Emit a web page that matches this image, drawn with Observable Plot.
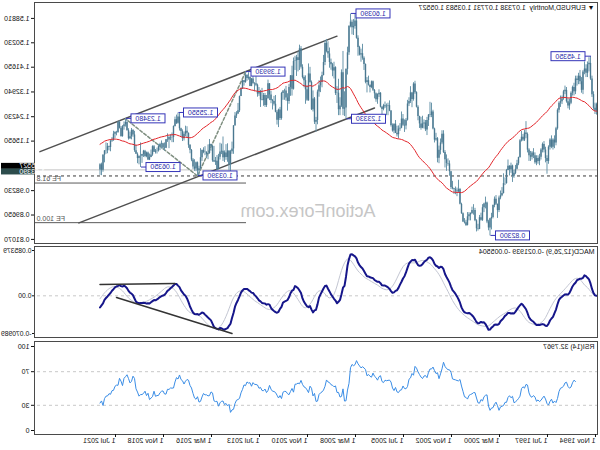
<!DOCTYPE html>
<html><head><meta charset="utf-8">
<script src="https://cdn.jsdelivr.net/npm/d3@7"></script>
<script src="https://cdn.jsdelivr.net/npm/@observablehq/plot@0.6"></script>
<style>
html,body{margin:0;padding:0;background:#fff;overflow:hidden;}
#wrap{width:600px;height:450px;transform:scaleX(-1);position:relative;overflow:hidden;background:#fff;}
#wrap svg{display:block;}
</style></head><body><div id="wrap"></div>
<script>
// ---------- data (EURUSD monthly, Nov 1994 .. Jun 2022) ----------
const startMonth = "1994-11";
const firstOpen = 1.285;
const closes = [
1.262,1.272,
1.320,1.375,1.430,1.425,1.395,1.410,1.400,1.335,1.365,1.385,1.370,1.375,
1.330,1.345,1.325,1.290,1.280,1.295,1.335,1.330,1.305,1.295,1.290,1.265,
1.200,1.150,1.160,1.135,1.160,1.135,1.085,1.095,1.125,1.145,1.125,1.100,
1.085,1.095,1.080,1.105,1.115,1.100,1.105,1.125,1.180,1.185,1.160,1.170,
1.1575,1.0985,1.0765,1.0575,1.0430,1.0330,1.0690,1.0560,1.0680,1.0535,1.0070,1.0070,
0.9720,0.9640,0.9565,0.9120,0.9340,0.9520,0.9300,0.8880,0.8830,0.8510,0.8720,0.9390,
0.9350,0.9220,0.8780,0.8870,0.8460,0.8480,0.8760,0.9120,0.9120,0.9020,0.8970,0.8900,
0.8600,0.8690,0.8720,0.9010,0.9340,0.9860,0.9780,0.9810,0.9860,0.9890,0.9930,1.0490,
1.0760,1.0780,1.0910,1.1160,1.1810,1.1500,1.1240,1.0960,1.1650,1.1600,1.1990,1.2590,
1.2470,1.2480,1.2290,1.1960,1.2200,1.2170,1.2020,1.2170,1.2430,1.2760,1.3270,1.3570,
1.3030,1.3260,1.2960,1.2870,1.2300,1.2100,1.2120,1.2340,1.2020,1.1990,1.1790,1.1840,
1.2160,1.1920,1.2110,1.2620,1.2810,1.2790,1.2770,1.2810,1.2680,1.2760,1.3250,1.3200,
1.3020,1.3230,1.3350,1.3650,1.3450,1.3530,1.3690,1.3630,1.4260,1.4480,1.4640,1.4590,
1.4860,1.5180,1.5790,1.5600,1.5550,1.5750,1.5600,1.4670,1.4090,1.2730,1.2690,1.3970,
1.2800,1.2670,1.3250,1.3240,1.4150,1.4030,1.4250,1.4330,1.4630,1.4720,1.5000,1.4330,
1.3870,1.3630,1.3510,1.3290,1.2290,1.2230,1.3050,1.2670,1.3630,1.3930,1.2980,1.3370,
1.3690,1.3800,1.4160,1.4810,1.4400,1.4500,1.4390,1.4370,1.3390,1.3860,1.3450,1.2960,
1.3080,1.3330,1.3340,1.3240,1.2360,1.2660,1.2300,1.2580,1.2860,1.2960,1.2990,1.3190,
1.3580,1.3060,1.2820,1.3170,1.2990,1.3010,1.3300,1.3220,1.3530,1.3580,1.3590,1.3750,
1.3490,1.3800,1.3770,1.3870,1.3630,1.3690,1.3390,1.3130,1.2630,1.2520,1.2450,1.2100,
1.1290,1.1190,1.0730,1.1220,1.0990,1.1150,1.0980,1.1210,1.1180,1.1000,1.0560,1.0860,
1.0830,1.0870,1.1380,1.1450,1.1130,1.1100,1.1170,1.1160,1.1240,1.0980,1.0590,1.0520,
1.0800,1.0580,1.0650,1.0900,1.1240,1.1420,1.1840,1.1910,1.1810,1.1650,1.1900,1.2000,
1.2410,1.2190,1.2320,1.2080,1.1690,1.1680,1.1690,1.1600,1.1610,1.1310,1.1320,1.1470,
1.1450,1.1370,1.1220,1.1210,1.1170,1.1370,1.1080,1.0990,1.0900,1.1150,1.1020,1.1210,
1.1090,1.1030,1.1030,1.0950,1.1100,1.1230,1.1780,1.1940,1.1720,1.1650,1.1930,1.2220,
1.2140,1.2070,1.1730,1.2020,1.2230,1.1860,1.1870,1.1810,1.1580,1.1560,1.1340,1.1370,
1.1230,1.1220,1.1070,1.0540,1.0730,1.0553];
const highs = [
1.290,1.290,
1.330,1.385,1.4535,1.450,1.435,1.425,1.435,1.405,1.380,1.405,1.395,1.385,
1.385,1.360,1.350,1.330,1.305,1.305,1.345,1.350,1.335,1.315,1.315,1.295,
1.270,1.205,1.175,1.165,1.175,1.165,1.140,1.105,1.135,1.155,1.150,1.130,
1.110,1.105,1.105,1.115,1.130,1.120,1.120,1.130,1.185,1.225,1.195,1.180,
1.1906,1.1620,1.1000,1.0890,1.0710,1.0530,1.0720,1.0790,1.0700,1.0900,1.0570,1.0270,
1.0415,0.9930,0.9810,0.9630,0.9350,0.9650,0.9600,0.9320,0.9025,0.8850,0.8780,0.9420,
0.9595,0.9380,0.9330,0.9030,0.8950,0.8640,0.8800,0.9200,0.9330,0.9240,0.9040,0.9050,
0.9050,0.8780,0.8840,0.9040,0.9380,0.9900,1.0190,0.9910,0.9950,0.9900,1.0150,1.0500,
1.0870,1.0940,1.1080,1.1230,1.1930,1.1930,1.1640,1.1390,1.1690,1.1840,1.2020,1.2650,
1.2900,1.2930,1.2500,1.2400,1.2290,1.2310,1.2440,1.2400,1.2440,1.2810,1.3300,1.3670,
1.3620,1.3280,1.3480,1.3090,1.3000,1.2360,1.2310,1.2500,1.2590,1.2180,1.2100,1.2090,
1.2290,1.2170,1.2170,1.2640,1.2980,1.2900,1.2870,1.2940,1.2860,1.2780,1.3270,1.3370,
1.3230,1.3260,1.3380,1.3680,1.3680,1.3540,1.3850,1.3800,1.4280,1.4530,1.4970,1.4800,
1.4900,1.5270,1.5900,1.6020,1.5840,1.5820,1.6039,1.5630,1.4870,1.4100,1.3300,1.4720,
1.4070,1.3090,1.3740,1.3480,1.4180,1.4340,1.4300,1.4450,1.4840,1.5060,1.5140,1.5100,
1.4580,1.3990,1.3820,1.3690,1.3360,1.2400,1.3100,1.3330,1.3680,1.4160,1.4280,1.3500,
1.3860,1.3860,1.4250,1.4890,1.4940,1.4700,1.4580,1.4550,1.4490,1.4200,1.3870,1.3560,
1.3230,1.3490,1.3390,1.3290,1.3280,1.2750,1.2690,1.2640,1.3170,1.3140,1.3030,1.3310,
1.3590,1.3710,1.3170,1.3240,1.3240,1.3420,1.3350,1.3450,1.3570,1.3830,1.3620,1.3890,
1.3770,1.3830,1.3970,1.3910,1.3993,1.3700,1.3700,1.3440,1.3150,1.2890,1.2600,1.2570,
1.2110,1.1530,1.1240,1.1220,1.1470,1.1440,1.1220,1.1710,1.1460,1.1490,1.1100,1.1060,
1.0990,1.1380,1.1410,1.1460,1.1620,1.1430,1.1190,1.1370,1.1330,1.1240,1.1300,1.0680,
1.0830,1.0830,1.0910,1.0950,1.1270,1.1440,1.1850,1.2070,1.2090,1.1880,1.1960,1.2020,
1.2540,1.2555,1.2480,1.2410,1.2100,1.1850,1.1790,1.1740,1.1820,1.1620,1.1500,1.1490,
1.1570,1.1490,1.1450,1.1320,1.1270,1.1410,1.1400,1.1250,1.1110,1.1180,1.1180,1.1240,
1.1240,1.1100,1.1500,1.1040,1.1150,1.1420,1.1910,1.1970,1.2010,1.1880,1.2000,1.2310,
1.2348,1.2240,1.2110,1.2080,1.2270,1.2250,1.1910,1.1900,1.1910,1.1690,1.1610,1.1390,
1.1480,1.1500,1.1230,1.1090,1.0790,1.0773];
const lows = [
1.248,1.250,
1.265,1.310,1.370,1.400,1.380,1.380,1.390,1.320,1.325,1.355,1.355,1.350,
1.320,1.315,1.315,1.285,1.265,1.270,1.290,1.320,1.300,1.285,1.275,1.255,
1.195,1.140,1.130,1.125,1.130,1.125,1.075,1.040,1.080,1.115,1.115,1.090,
1.070,1.075,1.070,1.075,1.095,1.090,1.085,1.085,1.115,1.165,1.155,1.155,
1.1535,1.0960,1.0700,1.0555,1.0385,1.0255,1.0110,1.0430,1.0340,1.0530,1.0050,1.0000,
0.9705,0.9610,0.9500,0.9050,0.8845,0.9300,0.9220,0.8830,0.8440,0.8230,0.8410,0.8660,
0.9180,0.9050,0.8740,0.8750,0.8450,0.8400,0.8370,0.8730,0.8960,0.8980,0.8760,0.8760,
0.8580,0.8560,0.8650,0.8700,0.8990,0.9320,0.9730,0.9610,0.9680,0.9690,0.9850,0.9860,
1.0330,1.0680,1.0500,1.0620,1.1130,1.1440,1.1080,1.0770,1.0800,1.1560,1.1500,1.1960,
1.2390,1.2390,1.2080,1.1760,1.1900,1.1990,1.2000,1.1950,1.2010,1.2280,1.2730,1.3210,
1.2970,1.2740,1.2890,1.2780,1.2270,1.1960,1.1870,1.2080,1.2000,1.1910,1.1640,1.1710,
1.1830,1.1820,1.1880,1.2060,1.2600,1.2460,1.2460,1.2710,1.2630,1.2480,1.2730,1.3100,
1.2860,1.2930,1.3050,1.3310,1.3410,1.3260,1.3500,1.3260,1.3580,1.4050,1.4410,1.4340,
1.4560,1.4550,1.5150,1.5500,1.5280,1.5300,1.5550,1.4580,1.3890,1.2333,1.2430,1.2460,
1.2750,1.2460,1.2460,1.2890,1.3170,1.3750,1.3830,1.4060,1.4130,1.4480,1.4670,1.4220,
1.3860,1.3440,1.3270,1.3110,1.2140,1.1880,1.2150,1.2590,1.2640,1.3600,1.2970,1.3040,
1.2860,1.3440,1.3750,1.4100,1.4050,1.4000,1.3840,1.4050,1.3360,1.3150,1.3140,1.2860,
1.2620,1.2970,1.3000,1.3000,1.2300,1.2290,1.2040,1.2130,1.2560,1.2800,1.2660,1.2880,
1.2990,1.3030,1.2750,1.2750,1.2790,1.2980,1.2750,1.3140,1.3110,1.3480,1.3300,1.3550,
1.3480,1.3480,1.3710,1.3670,1.3600,1.3500,1.3390,1.3130,1.2570,1.2500,1.2360,1.2100,
1.1100,1.1100,1.0462,1.0520,1.0820,1.0890,1.0810,1.0850,1.1090,1.0900,1.0560,1.0520,
1.0710,1.0810,1.0820,1.1210,1.1100,1.0910,1.0950,1.1050,1.1120,1.0850,1.0550,1.0350,
1.0339,1.0490,1.0500,1.0570,1.0840,1.1120,1.1310,1.1660,1.1720,1.1570,1.1550,1.1720,
1.1920,1.2160,1.2150,1.2060,1.1510,1.1510,1.1580,1.1300,1.1520,1.1300,1.1210,1.1260,
1.1290,1.1230,1.1180,1.1110,1.1110,1.1170,1.1030,1.0980,1.0880,1.0880,1.0980,1.0980,
1.0990,1.0780,1.0635,1.0730,1.0770,1.1100,1.1170,1.1700,1.1610,1.1620,1.1600,1.1920,
1.2060,1.1950,1.1700,1.1700,1.1990,1.1850,1.1750,1.1660,1.1560,1.1520,1.1190,1.1220,
1.1120,1.1100,1.0800,1.0470,1.0350,1.0358];

// axis ticks and labels
const priceTicks = [1.58810, 1.50230, 1.41650, 1.32940, 1.24230, 1.15650, 0.98230, 0.89650, 0.81070];
const macdTicks = [0.085379, 0, -0.070989];
const macdTickLabels = ["0.085379", "0.00", "-0.070989"];
const rsiTicks = [100, 70, 30, 0];
const rsiLevels = [70, 30];
const xTickLabels = ["1 Nov 1994","1 Jul 1997","1 Mar 2000","1 Nov 2002","1 Jul 2005","1 Mar 2008",
                     "1 Nov 2010","1 Jul 2013","1 Mar 2016","1 Nov 2018","1 Jul 2021"];

// titles
const headerText = "\u25BC EURUSD,Monthly  1.07338 1.07731 1.03583 1.05527";
const macdTitle = "MACD(12,26,9) -0.021939 -0.005504";
const rsiTitle = "RSI(14) 32.7967";
const watermark = "ActionForex.com";

// price lines
const currentPrice = 1.05527;
const levelPrice = 1.03390;

// swing labels (zigzag)
const swingDates  = ["1995-03","2000-10","2008-07","2008-10","2014-05","2017-01","2018-02","2020-03","2021-01"];
const swingPrices = [1.45350, 0.82300, 1.60390, 1.23330, 1.39930, 1.03390, 1.25550, 1.06350, 1.23480];

// fibonacci expansion (A, B, C) and levels
const fibDates  = ["2014-05","2017-01","2021-01"];
const fibPrices = [1.3993, 1.0339, 1.2348];
const feLabels  = ["FE 61.8", "FE 100.0"];
const fePrices  = [1.0090, 0.8696];

// trend channel lines
const upperDates = ["2009-04","2025-10"], upperPrices = [1.5257, 1.1195];
const lowerDates = ["2007-03","2023-08"], lowerPrices = [1.2730, 0.8688];

// MACD trend lines
const macdLineHDates = ["2018-04","2022-06"], macdLineHValues = [0.0232, 0.0213];
const macdLineDDates = ["2015-02","2021-07"], macdLineDValues = [-0.0710, -0.0032];

// ---------- helpers ----------
const MONTHS = ["Jan","Feb","Mar","Apr","May","Jun","Jul","Aug","Sep","Oct","Nov","Dec"];
const [y0, m0] = startMonth.split("-").map(Number);
const idxOf = s => { const [y, m] = s.split("-").map(Number); return (y - y0) * 12 + (m - m0); };
const idxOfLabel = s => { const [, mon, yr] = s.split(" "); return (+yr - y0) * 12 + (MONTHS.indexOf(mon) + 1 - m0); };
const pts = (dates, vals) => dates.map((d, i) => ({i: idxOf(d), v: vals[i]}));

function ema(arr, p) { const k = 2 / (p + 1); const out = []; arr.forEach((v, i) => out.push(i === 0 ? v : out[i - 1] + k * (v - out[i - 1]))); return out; }
const maLine = ema(closes, 50);
const e12 = ema(closes, 12), e26 = ema(closes, 26);
const macd = e12.map((v, i) => v - e26[i]);
const signal = macd.map((v, i) => d3.mean(macd.slice(Math.max(0, i - 8), i + 1)));
const rsi = new Array(closes.length).fill(null);
{
  let ag = 0, al = 0;
  for (let i = 1; i <= 14; i++) { const d = closes[i] - closes[i - 1]; if (d > 0) ag += d; else al -= d; }
  ag /= 14; al /= 14; rsi[14] = 100 - 100 / (1 + ag / al);
  for (let i = 15; i < closes.length; i++) {
    const d = closes[i] - closes[i - 1];
    ag = (ag * 13 + Math.max(d, 0)) / 14; al = (al * 13 + Math.max(-d, 0)) / 14;
    rsi[i] = 100 - 100 / (1 + ag / al);
  }
}
const bars = closes.map((c, i) => ({
  i, open: i ? closes[i - 1] : firstOpen, close: c, high: highs[i], low: lows[i],
  ma: maLine[i], macd: macd[i], signal: signal[i], rsi: rsi[i]
}));

const FONT = "'Liberation Sans', Arial, sans-serif";
const xDomain = [-0.667, 374.667];
const baseStyle = {fontFamily: FONT, fontSize: "7px", background: "#fff", color: "#111", overflow: "visible"};
const frameColor = "#4a4a4a";

// ---------- main price panel ----------
const main = Plot.plot({
  width: 600, height: 244, marginTop: 2, marginBottom: 1, marginLeft: 2, marginRight: 35,
  style: baseStyle,
  x: {type: "linear", domain: xDomain, axis: null},
  y: {domain: [0.7963, 1.6441], axis: null},
  marks: [
    Plot.text([watermark], {frameAnchor: "bottom", dx: 8, dy: -27, fontSize: 18, fill: "#c6c6c6"}),
    Plot.ruleY([currentPrice], {stroke: "#c4c4c4"}),
    Plot.ruleY([levelPrice], {stroke: "#3a3a3a", strokeDasharray: "3,3"}),
    Plot.ruleY(fePrices, {y: d => d, x1: () => idxOf(fibDates[0]), x2: () => xDomain[1], stroke: "#5a5a5a"}),
    Plot.text(fePrices, {x: () => xDomain[1], y: d => d, text: (d, i) => feLabels[i], textAnchor: "end", dx: -2, dy: -4, fontSize: 7, fill: "#555"}),
    Plot.line(pts(upperDates, upperPrices), {x: "i", y: "v", stroke: "#505050"}),
    Plot.line(pts(lowerDates, lowerPrices), {x: "i", y: "v", stroke: "#505050"}),
    Plot.line(pts(fibDates, fibPrices), {x: "i", y: "v", stroke: "#7f8f80", strokeDasharray: "3,2"}),
    Plot.ruleX(bars, {x: "i", y1: "low", y2: "high", stroke: "#6a96ab", strokeWidth: 1}),
    Plot.ruleX(bars, {x: "i", y1: "open", y2: "close", stroke: "#4a7890", strokeWidth: 1.4}),
    Plot.line(bars, {x: "i", y: "ma", stroke: "#e3262b", strokeWidth: 1}),
    Plot.frame({stroke: frameColor}),
    Plot.axisY(priceTicks, {anchor: "right", label: null, tickSize: 3, tickPadding: 2, fontSize: 7, tickFormat: d => d.toFixed(5)}),
    Plot.text([headerText], {frameAnchor: "top-left", dx: 3, dy: 3, fontSize: 7, fill: "#111"})
  ]
});

// ---------- MACD panel ----------
const macdChart = Plot.plot({
  width: 600, height: 95, marginTop: 2, marginBottom: 2, marginLeft: 2, marginRight: 35,
  style: baseStyle,
  x: {type: "linear", domain: xDomain, axis: null},
  y: {domain: [-0.078525, 0.092915], axis: null},
  marks: [
    Plot.ruleY([0], {stroke: "#c8c8c8", strokeDasharray: "3,3"}),
    Plot.line(bars, {x: "i", y: "signal", stroke: "#c3c6d2", strokeWidth: 1, clip: true}),
    Plot.line(bars, {x: "i", y: "macd", stroke: "#16168a", strokeWidth: 2, clip: true}),
    Plot.line(pts(macdLineHDates, macdLineHValues), {x: "i", y: "v", stroke: "#333"}),
    Plot.line(pts(macdLineDDates, macdLineDValues), {x: "i", y: "v", stroke: "#333"}),
    Plot.frame({stroke: frameColor}),
    Plot.axisY(macdTicks, {anchor: "right", label: null, tickSize: 2, tickPadding: 1, fontSize: 6.8, tickFormat: d => macdTickLabels[macdTicks.indexOf(d)]}),
    Plot.text([macdTitle], {frameAnchor: "top-left", dx: 3, dy: 3, fontSize: 7, fill: "#111"})
  ]
});

// ---------- RSI panel ----------
const xTickIdx = xTickLabels.map(idxOfLabel);
const rsiChart = Plot.plot({
  width: 600, height: 111, marginTop: 2, marginBottom: 16, marginLeft: 2, marginRight: 35,
  style: baseStyle,
  x: {type: "linear", domain: xDomain, axis: null},
  y: {domain: [-4.76, 105.95], axis: null},
  marks: [
    Plot.ruleY(rsiLevels, {stroke: "#c8c8c8", strokeDasharray: "3,3"}),
    Plot.line(bars.filter(d => d.rsi != null), {x: "i", y: "rsi", stroke: "#3a8de6", strokeWidth: 1}),
    Plot.frame({stroke: frameColor}),
    Plot.axisY(rsiTicks, {anchor: "right", label: null, tickSize: 3, tickPadding: 2, fontSize: 7, tickFormat: d => String(d)}),
    Plot.axisX(xTickIdx, {anchor: "bottom", label: null, tickSize: 3, tickPadding: 1, fontSize: 7, textAnchor: "start", dx: 1,
                          tickFormat: d => xTickLabels[xTickIdx.indexOf(d)]}),
    Plot.text([rsiTitle], {frameAnchor: "top-left", dx: 3, dy: 3, fontSize: 7, fill: "#111"})
  ]
});

const wrap = document.getElementById("wrap");
wrap.append(main, macdChart, rsiChart);

// ---------- annotation boxes drawn with the plot's scales ----------
function scaleFn(chart, name, domain, range) {
  try { const s = chart.scale(name); if (s && typeof s.apply === "function") return v => s.apply(v); } catch (e) {}
  return d3.scaleLinear(domain, range);
}
const X = scaleFn(main, "x", xDomain, [2, 565]);
const Y = scaleFn(main, "y", [0.7963, 1.6441], [243, 2]);
const svg = d3.select(main);
const g = svg.append("g").attr("font-family", FONT).attr("font-size", 7);

// axis price boxes
const boxX = 566, boxW = 33;
[[currentPrice, "#000000", -6.5], [levelPrice, "#2c4c4c", -7]].forEach(([p, fill, off]) => {
  const yy = Y(p) + off;
  g.append("rect").attr("x", boxX).attr("y", yy).attr("width", boxW).attr("height", 6).attr("fill", fill);
  g.append("text").attr("x", boxX + 2).attr("y", yy + 3).attr("dy", "0.35em").attr("fill", "#fff").text(p.toFixed(5));
});

// swing labels
const lblW = 34, lblH = 9, gap = 5, blue = "#3434b8";
swingDates.forEach((d, k) => {
  const bx = X(idxOf(d)), by = Y(swingPrices[k]);
  let x0, lx1, lx2;
  if (bx - gap - lblW >= 2) { x0 = bx - gap - lblW; lx1 = bx - gap; lx2 = bx; }
  else { x0 = bx + gap + 1; lx1 = bx; lx2 = x0; }
  g.append("line").attr("x1", lx1).attr("x2", lx2).attr("y1", by).attr("y2", by).attr("stroke", blue);
  g.append("rect").attr("x", x0).attr("y", by - lblH / 2).attr("width", lblW).attr("height", lblH)
    .attr("fill", "#fff").attr("stroke", blue).attr("stroke-width", 1);
  g.append("text").attr("x", x0 + lblW / 2).attr("y", by).attr("dy", "0.35em").attr("text-anchor", "middle")
    .attr("fill", "#2a2aa8").text(swingPrices[k].toFixed(5));
});
</script>
</body></html>
